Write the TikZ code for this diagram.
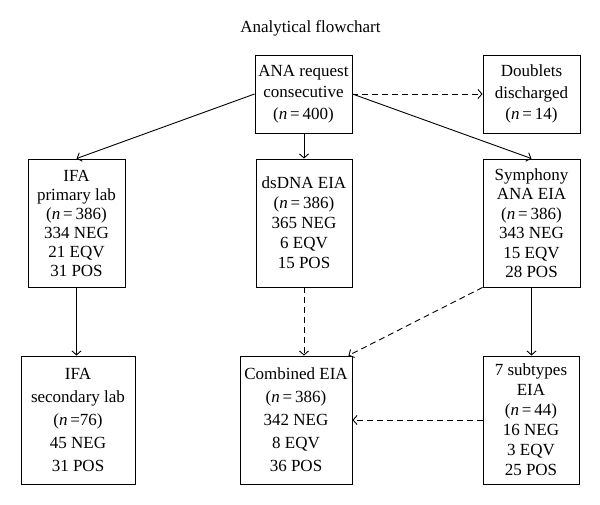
\documentclass[tikz,border=0pt]{standalone}
\usepackage{fontspec}
\setmainfont{Liberation Serif}
\usetikzlibrary{arrows.meta}
\begin{document}
\begin{tikzpicture}[x=1pt,y=-1pt,
  box/.style={draw, line width=0.9pt, align=center, inner sep=0pt},
  lsp/.style={font=\fontsize{17}{#1}\selectfont},
  arr/.style={-{Straight Barb[length=4pt,width=9pt]}, line width=0.9pt},
  dsh/.style={arr, dash pattern=on 6pt off 4pt}]
\useasboundingbox (0,0) rectangle (600,505);
\node[lsp=20, anchor=base] (title) at (310.5,33) {Analytical flowchart};
\node[box, lsp=21.7, minimum width=97pt, minimum height=78pt] (ana) at (303.5,94)
  {ANA request\\consecutive\\(\textit{n}\,=\,400)};
\node[box, lsp=21.5, minimum width=97pt, minimum height=78pt] (dbl) at (531.5,94)
  {Doublets\\discharged\\(\textit{n}\,=\,14)};
\node[box, lsp=19, minimum width=97pt, minimum height=128pt] (ifa1) at (76.5,223)
  {IFA\\primary lab\\(\textit{n}\,=\,386)\\334 NEG\\21 EQV\\31 POS};
\node[box, lsp=20, minimum width=96pt, minimum height=128pt] (ds) at (304,223)
  {dsDNA EIA\\(\textit{n}\,=\,386)\\365 NEG\\6 EQV\\15 POS};
\node[box, lsp=19.5, minimum width=97pt, minimum height=128pt] (sym) at (531.5,223)
  {Symphony\\ANA EIA\\(\textit{n}\,=\,386)\\343 NEG\\15 EQV\\28 POS};
\node[box, lsp=23, minimum width=114pt, minimum height=128pt] (ifa2) at (78,420)
  {IFA\\secondary lab\\(\textit{n}\,=76)\\45 NEG\\31 POS};
\node[box, lsp=23, minimum width=112pt, minimum height=128pt] (comb) at (296,420)
  {Combined EIA\\(\textit{n}\,=\,386)\\342 NEG\\8 EQV\\36 POS};
\node[box, lsp=20, minimum width=96pt, minimum height=128pt] (sub) at (531,420)
  {7 subtypes\\EIA\\(\textit{n}\,=\,44)\\16 NEG\\3 EQV\\25 POS};
\draw[arr] (ana.west) -- (ifa1.north);
\draw[arr] (ana.south -| ds.north) -- (ds.north);
\draw[arr] (ana.east) -- (sym.north);
\draw[dsh] (ana.east) -- (dbl.west);
\draw[arr] (ifa1.south) -- (ifa1.south |- ifa2.north);
\draw[dsh] (ds.south) -- (ds.south |- comb.north);
\draw[dsh] (sym.south west) -- ([xshift=-4pt]comb.north east);
\draw[arr] (sym.south) -- (sym.south |- sub.north);
\draw[dsh] (sub.west) -- (comb.east);
\end{tikzpicture}
\end{document}
